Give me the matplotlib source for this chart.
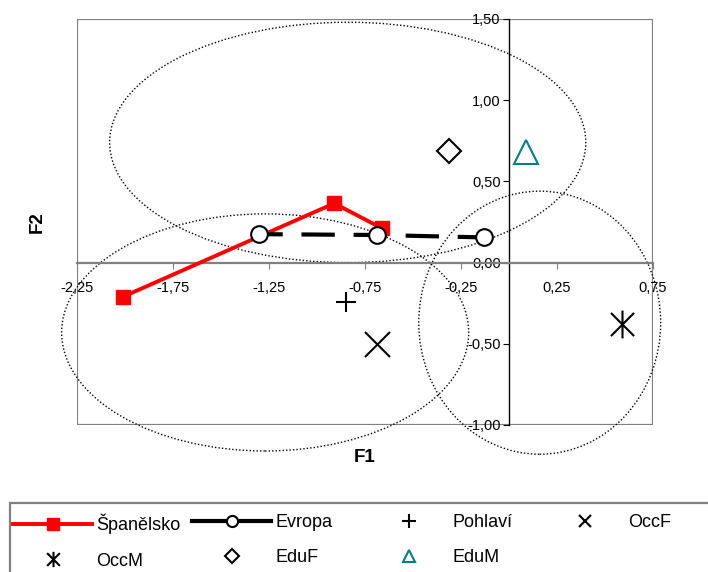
import matplotlib.pyplot as plt
from matplotlib.patches import Ellipse, Rectangle
from matplotlib.lines import Line2D
from matplotlib.path import Path
from matplotlib.ticker import FuncFormatter

plt.rcParams['font.family'] = ['Liberation Sans', 'DejaVu Sans']

# Data
spain_x = [-2.01, -0.91, -0.66]
spain_y = [-0.21, 0.365, 0.21]
europe_x = [-1.30, -0.69, -0.13]
europe_y = [0.175, 0.17, 0.155]

pohlavi = (-0.85, -0.24)
occf = (-0.69, -0.50)
occm = (0.59, -0.38)
eduf = (-0.315, 0.69)
edum = (0.09, 0.68)

# confidence ellipses: centre x, centre y, width, height
ell_cx = [-0.84, -1.27, 0.16]
ell_cy = [0.74, -0.43, -0.37]
ell_w = [2.48, 2.12, 1.26]
ell_h = [1.48, 1.46, 1.62]

x_ticks = [-2.25, -1.75, -1.25, -0.75, -0.25, 0.25, 0.75]
y_ticks = [-1.0, -0.5, 0.0, 0.5, 1.0, 1.5]

GRAY = '#808080'
TEAL = '#008080'

# asterisk marker: an X with a vertical bar through it
star = Path([(-1, -1), (1, 1), (-1, 1), (1, -1), (0, -1.2), (0, 1.2)],
            [Path.MOVETO, Path.LINETO, Path.MOVETO, Path.LINETO, Path.MOVETO, Path.LINETO])

fig = plt.figure(figsize=(7.08, 5.72), dpi=100)
ax = fig.add_axes([77 / 708, 1 - 425 / 572, 576 / 708, 406 / 572])
ax.set_xlim(-2.25, 0.75)
ax.set_ylim(-1.0, 1.5)

# axes crossing at the origin, plot area drawn as a grey box
ax.spines['left'].set_position(('data', 0))
ax.spines['bottom'].set_position(('data', 0))
ax.spines['top'].set_visible(False)
ax.spines['right'].set_visible(False)
ax.spines['bottom'].set_color(GRAY)
ax.spines['bottom'].set_linewidth(1.6)
ax.spines['left'].set_color('black')
ax.spines['left'].set_linewidth(1.0)
ax.add_patch(Rectangle((0, 0), 1, 1, transform=ax.transAxes, fill=False,
                       ec=GRAY, lw=1.6, zorder=0.5))

fmt = FuncFormatter(lambda v, p: f'{v:.2f}'.replace('.', ','))
ax.set_xticks(x_ticks)
ax.set_yticks(y_ticks)
ax.xaxis.set_major_formatter(fmt)
ax.yaxis.set_major_formatter(fmt)
ax.tick_params(axis='x', direction='out', length=4, color=GRAY, labelsize=10.5, pad=9)
ax.tick_params(axis='y', direction='out', length=4, color='black', labelsize=10.5, pad=2)

for cx, cy, w, h in zip(ell_cx, ell_cy, ell_w, ell_h):
    ax.add_patch(Ellipse((cx, cy), w, h, fill=False, ec='black', lw=1.0,
                         ls=(0, (1, 1.5)), clip_on=False, zorder=1))

ax.plot(spain_x, spain_y, color='red', lw=2.8, marker='s', ms=10, zorder=3)
ax.plot(europe_x, europe_y, color='black', lw=3, ls=(2.4, (8, 4.5)), marker='o', ms=12,
        mfc='white', mec='black', mew=1.5, zorder=4)
ax.plot(*pohlavi, marker='+', ms=14, mew=1.5, color='black', ls='none', zorder=3)
ax.plot(*occf, marker='x', ms=18, mew=1.5, color='black', ls='none', zorder=3)
ax.plot(*occm, marker=star, ms=20, mew=1.5, mfc='none', color='black', ls='none', zorder=3)
ax.plot(*eduf, marker='D', ms=12, mew=1.5, mfc='white', mec='black', ls='none', zorder=3)
ax.plot(*edum, marker='^', ms=17, mew=1.5, mfc='white', mec=TEAL, ls='none', zorder=3)

ax.text(0.5, -0.081, 'F1', transform=ax.transAxes, ha='center', va='center',
        fontsize=13.5, fontweight='bold')
ax.text(-0.069, 0.5, 'F2', transform=ax.transAxes, ha='center', va='center',
        rotation=90, fontsize=13.5, fontweight='bold')

# legend: four equal columns inside a grey box under the chart
h_spain = Line2D([], [], color='red', lw=2.8, marker='s', ms=8)
h_europe = Line2D([], [], color='black', lw=3, marker='o', ms=8, mfc='white', mec='black', mew=1.5)
h_pohl = Line2D([], [], color='black', marker='+', ms=10, mew=1.5, ls='none')
h_occf = Line2D([], [], color='black', marker='x', ms=9, mew=1.5, ls='none')
h_occm = Line2D([], [], color='black', marker=star, ms=11, mew=1.5, mfc='none', ls='none')
h_eduf = Line2D([], [], marker='D', ms=7.5, mew=1.5, mfc='white', mec='black', ls='none')
h_edum = Line2D([], [], marker='^', ms=9, mew=1.5, mfc='white', mec=TEAL, ls='none')

columns = [([h_spain, h_occm], ['Španělsko', 'OccM']),
           ([h_europe, h_eduf], ['Evropa', 'EduF']),
           ([h_pohl, h_edum], ['Pohlaví', 'EduM']),
           ([h_occf], ['OccF'])]
col_x = [13, 192, 369, 545]
for (hs, labels), x in zip(columns, col_x):
    fig.legend(hs, labels, loc='upper left', bbox_to_anchor=(x / 708, 1 - 514 / 572),
               frameon=False, handlelength=4.4, handletextpad=0.22, labelspacing=1.0,
               borderpad=0, borderaxespad=0, fontsize=13)

fig.add_artist(Rectangle((10 / 708, -0.05), 1.0, (572 - 503) / 572 + 0.05,
                         transform=fig.transFigure, fill=False, ec=GRAY, lw=1.6))

fig.savefig('out.png', dpi=100)
